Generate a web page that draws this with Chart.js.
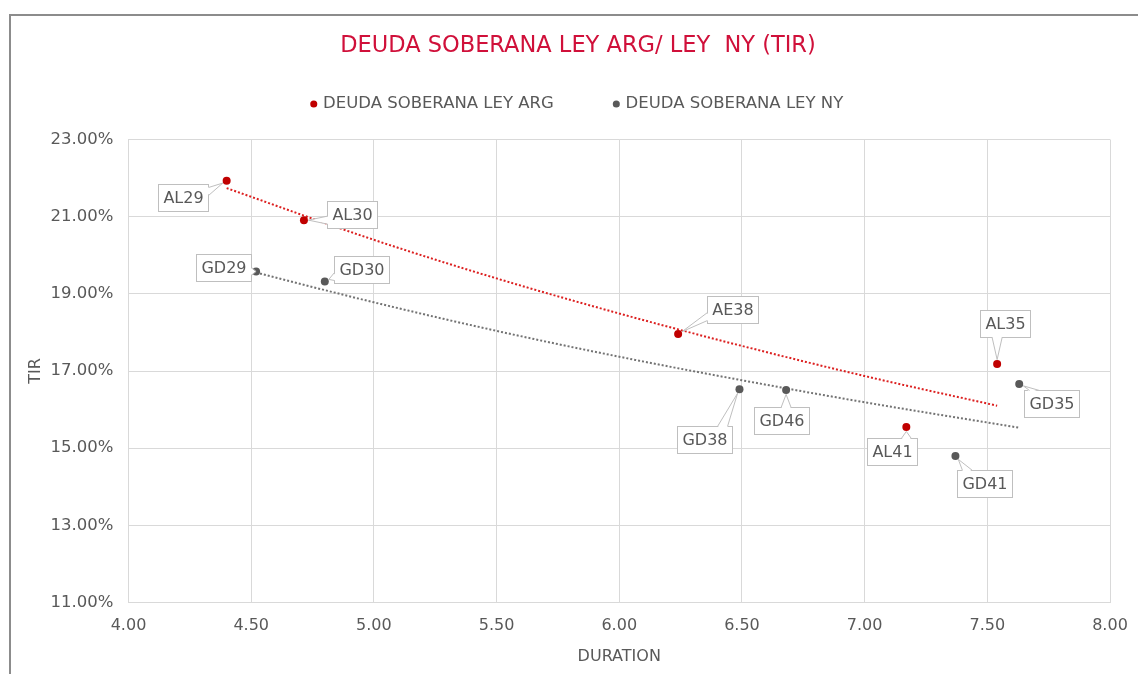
<!DOCTYPE html>
<html>
<head>
<meta charset="utf-8">
<script src="https://cdn.jsdelivr.net/npm/chart.js@4.4.1/dist/chart.umd.min.js"></script>
<style>
  html, body { margin: 0; padding: 0; background: #fff; }
  #wrap { width: 1138px; height: 674px; }
</style>
</head>
<body>
<div id="wrap"><canvas id="chart" width="1138" height="674"></canvas></div>
<script>
// bonds under Argentine law
const argNames = ['AL29', 'AL30', 'AE38', 'AL35', 'AL41'];
const argDuration = [4.40, 4.715, 6.24, 7.54, 7.17];
const argTir = [21.93, 20.91, 17.96, 17.18, 15.55];

// bonds under NY law
const nyNames = ['GD29', 'GD30', 'GD38', 'GD46', 'GD35', 'GD41'];
const nyDuration = [4.52, 4.80, 6.49, 6.68, 7.63, 7.37];
const nyTir = [19.58, 19.32, 16.53, 16.51, 16.66, 14.80];

// trendlines
const argTrendDuration = [4.40, 5.00, 5.50, 6.00, 6.50, 7.00, 7.54];
const argTrendTir = [21.74, 20.40, 19.40, 18.49, 17.65, 16.87, 16.10];
const nyTrendDuration = [4.52, 5.00, 5.50, 6.00, 6.50, 7.00, 7.63];
const nyTrendTir = [19.55, 18.78, 18.04, 17.37, 16.76, 16.19, 15.53];

const xTicks = [4, 4.5, 5, 5.5, 6, 6.5, 7, 7.5, 8];
const yTicks = [11, 13, 15, 17, 19, 21, 23];

// label box offsets from the point (px)
const argLabelOffsets = [[-44, 17], [48, -6], [54, -24], [8, -41], [-14, 25]];
const nyLabelOffsets = [[-33, -4], [37, -12], [-35, 50], [-5, 31], [32, 19], [29, 28]];

const FONT = '"DejaVu Sans", Verdana, sans-serif';
const TEXT = '#595959';
const RED = '#c00000';
const GREY = '#595959';

const toPoints = (xs, ys) => xs.map((x, i) => ({ x, y: ys[i] }));

const framePlugin = {
  id: 'frame',
  beforeDraw(chart) {
    const ctx = chart.ctx;
    ctx.save();
    ctx.fillStyle = '#fff';
    ctx.fillRect(0, 0, chart.width, chart.height);
    ctx.strokeStyle = '#8c8c8c';
    ctx.lineWidth = 2;
    ctx.beginPath();
    ctx.moveTo(10, chart.height);
    ctx.lineTo(10, 15);
    ctx.lineTo(chart.width, 15);
    ctx.stroke();
    ctx.restore();
  }
};

const labelPlugin = {
  id: 'bondLabels',
  afterDatasetsDraw(chart) {
    const ctx = chart.ctx;
    ctx.save();
    ctx.font = '16px ' + FONT;
    ctx.textAlign = 'center';
    ctx.textBaseline = 'middle';
    chart.data.datasets.forEach((ds, di) => {
      if (!ds.bondNames) return;
      const meta = chart.getDatasetMeta(di);
      meta.data.forEach((pt, i) => {
        const text = ds.bondNames[i];
        const off = ds.labelOffsets[i];
        const w = Math.round(ctx.measureText(text).width + 10);
        const h = 27;
        const cx = pt.x + off[0];
        const cy = pt.y + off[1];
        const left = Math.round(cx - w / 2) + 0.5;
        const top = Math.round(cy - h / 2) + 0.5;
        const right = left + w;
        const bottom = top + h;

        ctx.fillStyle = '#fff';
        ctx.strokeStyle = '#bfbfbf';
        ctx.lineWidth = 1;
        ctx.fillRect(left, top, w, h);
        ctx.strokeRect(left, top, w, h);

        // wedge towards the point
        const dx = pt.x - cx;
        const dy = pt.y - cy;
        let a, b, ai, bi;
        if (Math.abs(dx) / (w / 2) > Math.abs(dy) / (h / 2)) {
          const ex = dx > 0 ? right : left;
          const inward = dx > 0 ? -1.5 : 1.5;
          const by = Math.min(Math.max(pt.y, top + 7), bottom - 7);
          a = [ex, by - 4]; b = [ex, by + 4];
          ai = [ex + inward, by - 4]; bi = [ex + inward, by + 4];
        } else {
          const ey = dy > 0 ? bottom : top;
          const inward = dy > 0 ? -1.5 : 1.5;
          const bx = Math.min(Math.max(pt.x, left + 10), right - 10);
          a = [bx - 5, ey]; b = [bx + 5, ey];
          ai = [bx - 5, ey + inward]; bi = [bx + 5, ey + inward];
        }
        const dist = Math.hypot(pt.x - (a[0] + b[0]) / 2, pt.y - (a[1] + b[1]) / 2);
        const shrink = dist > 5 ? 4.5 / dist : 0;
        const tip = [pt.x - (pt.x - (a[0] + b[0]) / 2) * shrink, pt.y - (pt.y - (a[1] + b[1]) / 2) * shrink];
        ctx.beginPath();
        ctx.moveTo(ai[0], ai[1]);
        ctx.lineTo(tip[0], tip[1]);
        ctx.lineTo(bi[0], bi[1]);
        ctx.closePath();
        ctx.fill();
        ctx.beginPath();
        ctx.moveTo(a[0], a[1]);
        ctx.lineTo(tip[0], tip[1]);
        ctx.lineTo(b[0], b[1]);
        ctx.stroke();

        ctx.fillStyle = TEXT;
        ctx.fillText(text, (left + right) / 2, (top + bottom) / 2 + 1);
      });
    });
    ctx.restore();
  }
};

const data = {
  datasets: [
    {
      label: 'DEUDA SOBERANA LEY ARG',
      data: toPoints(argDuration, argTir),
      bondNames: argNames,
      labelOffsets: argLabelOffsets,
      backgroundColor: RED,
      borderColor: RED,
      pointRadius: 4,
      pointBorderWidth: 0,
      showLine: false,
    },
    {
      label: 'DEUDA SOBERANA LEY NY',
      data: toPoints(nyDuration, nyTir),
      bondNames: nyNames,
      labelOffsets: nyLabelOffsets,
      backgroundColor: GREY,
      borderColor: GREY,
      pointRadius: 4,
      pointBorderWidth: 0,
      showLine: false,
    },
    {
      label: 'trend ARG',
      data: toPoints(argTrendDuration, argTrendTir),
      showLine: true,
      borderColor: '#dc2020',
      borderWidth: 2,
      borderDash: [2, 2],
      pointRadius: 0,
      cubicInterpolationMode: 'monotone',
      fill: false,
    },
    {
      label: 'trend NY',
      data: toPoints(nyTrendDuration, nyTrendTir),
      showLine: true,
      borderColor: '#737373',
      borderWidth: 2,
      borderDash: [2, 2],
      pointRadius: 0,
      cubicInterpolationMode: 'monotone',
      fill: false,
    },
  ],
};

const config = {
  type: 'scatter',
  data,
  options: {
    responsive: false,
    animation: false,
    layout: { padding: { top: 16, left: 18, right: 0, bottom: 0 } },
    plugins: {
      title: {
        display: true,
        text: 'DEUDA SOBERANA LEY ARG/ LEY  NY (TIR)',
        color: '#d0103a',
        font: { family: FONT, size: 22.5, weight: 'normal' },
        padding: { top: 16.5, bottom: -25.25 },
      },
      // empty spacer between the legend and the plot
      subtitle: {
        display: true,
        text: '',
        weight: 500,
        font: { family: FONT, size: 10 },
        padding: { top: 5.25, bottom: 0 },
      },
      legend: {
        position: 'top',
        labels: {
          color: TEXT,
          font: { family: FONT, size: 16.5 },
          usePointStyle: true,
          pointStyle: 'circle',
          boxWidth: 2,
          boxHeight: 5,
          padding: 61.5,
          filter: (item) => item.datasetIndex < 2,
        },
      },
      tooltip: { enabled: false },
    },
    scales: {
      x: {
        type: 'linear',
        min: xTicks[0],
        max: xTicks[xTicks.length - 1],
        afterBuildTicks: (scale) => { scale.ticks = xTicks.map((v) => ({ value: v })); },
        afterFit: (scale) => { scale.height = 71.5; scale.paddingRight = 28; },
        grid: { color: '#d9d9d9', drawTicks: false },
        border: { color: '#d9d9d9' },
        ticks: {
          color: TEXT,
          padding: 14,
          font: { family: FONT, size: 16 },
          callback: (v) => Number(v).toFixed(2),
        },
        title: {
          display: true,
          text: 'DURATION',
          color: TEXT,
          font: { family: FONT, size: 16 },
          padding: { bottom: 7.4 },
        },
      },
      y: {
        type: 'linear',
        min: yTicks[0],
        max: yTicks[yTicks.length - 1],
        afterBuildTicks: (scale) => { scale.ticks = yTicks.map((v) => ({ value: v })); },
        afterFit: (scale) => { scale.width = 110.5; },
        grid: { color: '#d9d9d9', drawTicks: false },
        border: { color: '#d9d9d9' },
        ticks: {
          color: TEXT,
          padding: 15,
          font: { family: FONT, size: 16.5 },
          callback: (v) => Number(v).toFixed(2) + '%',
        },
        title: {
          display: true,
          text: 'TIR',
          color: TEXT,
          font: { family: FONT, size: 16 },
          padding: { top: 8.4 },
        },
      },
    },
  },
  plugins: [framePlugin, labelPlugin],
};

new Chart(document.getElementById('chart'), config);
</script>
</body>
</html>
